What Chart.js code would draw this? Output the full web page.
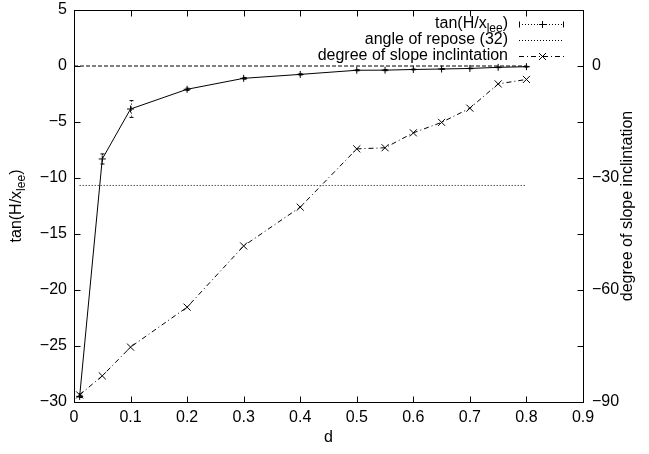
<!DOCTYPE html>
<html>
<head>
<meta charset="utf-8">
<script src="https://cdn.jsdelivr.net/npm/chart.js@4.4.1/dist/chart.umd.min.js"></script>
<style>
  html, body { margin: 0; padding: 0; background: #ffffff; }
  #wrap { width: 649px; height: 454px; }
</style>
</head>
<body>
<div id="wrap"><canvas id="c" width="649" height="454"></canvas></div>
<script>
// Relative distance d for each measurement
const dValues = [0.01, 0.05, 0.1, 0.2, 0.3, 0.4, 0.5, 0.55, 0.6, 0.65, 0.7, 0.75, 0.8];
// tan(H/x_lee) with its error bar half-widths (left axis)
const tanValues = [-29.5, -8.3, -3.84, -2.08, -1.1, -0.75, -0.38, -0.37, -0.31, -0.27, -0.22, -0.12, -0.06];
const tanErrors = [0.1, 0.45, 0.75, 0.1, 0.08, 0.06, 0.05, 0.05, 0.04, 0.04, 0.03, 0.03, 0.03];
// Degree of slope inclination (right axis)
const slopeValues = [-88.1, -83.0, -75.3, -64.6, -48.2, -37.8, -22.2, -21.9, -17.9, -15.1, -11.3, -4.8, -3.6];
// Angle of repose reference line (right axis, degrees)
const reposeAngle = -32;
const reposeSpan = [0.01, 0.8];
// Zero reference line (left axis)
const zeroLevel = 0;
const zeroSpan = [0, 0.8];

// Axis ticks
const xTicks = [0, 0.1, 0.2, 0.3, 0.4, 0.5, 0.6, 0.7, 0.8, 0.9];
const yTicks = [5, 0, -5, -10, -15, -20, -25, -30];
const y2LabelTicks = [0, -30, -60, -90];
const y2MarkTicks = [0, -15, -30, -45, -60, -75, -90];

const FONT = '"Liberation Sans", Arial, Helvetica, sans-serif';
const fontSpec = { family: FONT, size: 16 };
const minus = v => (v < 0 ? '\u2212' + String(Math.abs(v)) : String(v));

const tanPoints = dValues.map((d, i) => ({ x: d, y: tanValues[i] }));
const slopePoints = dValues.map((d, i) => ({ x: d, y: slopeValues[i] }));
const reposePoints = reposeSpan.map(d => ({ x: d, y: reposeAngle }));
const zeroPoints = zeroSpan.map(d => ({ x: d, y: zeroLevel }));

const TICK_LEN = 6;

// Draws text "base" + subscript + "tail", anchored by alignment
function drawSubText(ctx, base, sub, tail, x, y, align) {
  ctx.save();
  ctx.textBaseline = 'middle';
  ctx.textAlign = 'left';
  ctx.font = '16px ' + FONT;
  const w1 = ctx.measureText(base).width;
  const w3 = ctx.measureText(tail).width;
  ctx.font = '12px ' + FONT;
  const w2 = ctx.measureText(sub).width;
  const total = w1 + w2 + w3;
  let x0 = x;
  if (align === 'right') x0 = x - total;
  else if (align === 'center') x0 = x - total / 2;
  ctx.font = '16px ' + FONT;
  ctx.fillText(base, x0, y);
  ctx.font = '12px ' + FONT;
  ctx.fillText(sub, x0 + w1, y + 5);
  ctx.font = '16px ' + FONT;
  ctx.fillText(tail, x0 + w1 + w2, y);
  ctx.restore();
}

function drawCross(ctx, x, y, r) {
  ctx.beginPath();
  ctx.moveTo(x - r, y); ctx.lineTo(x + r, y);
  ctx.moveTo(x, y - r); ctx.lineTo(x, y + r);
  ctx.stroke();
}
function drawX(ctx, x, y, r) {
  ctx.beginPath();
  ctx.moveTo(x - r, y - r); ctx.lineTo(x + r, y + r);
  ctx.moveTo(x - r, y + r); ctx.lineTo(x + r, y - r);
  ctx.stroke();
}

// Fixed axis box sizes so the plot frame sits at a known place
const fixVertical = width => s => { s.width = width; s.paddingTop = 0; s.paddingBottom = 0; };
const fixHorizontal = height => s => { s.height = height; s.paddingLeft = 0; s.paddingRight = 0; };

const decorPlugin = {
  id: 'decor',
  afterDatasetsDraw(chart) {
    const ctx = chart.ctx;
    const xs = chart.scales.x, ys = chart.scales.y;
    // error bars of tan(H/x_lee)
    ctx.save();
    ctx.strokeStyle = '#000';
    ctx.lineWidth = 1;
    dValues.forEach((d, i) => {
      const px = Math.round(xs.getPixelForValue(d)) + 0.5;
      const top = ys.getPixelForValue(tanValues[i] + tanErrors[i]);
      const bot = ys.getPixelForValue(tanValues[i] - tanErrors[i]);
      ctx.setLineDash([1, 2]);
      ctx.beginPath();
      ctx.moveTo(px, top); ctx.lineTo(px, bot);
      ctx.stroke();
      ctx.setLineDash([]);
      ctx.beginPath();
      ctx.moveTo(px - 2, top); ctx.lineTo(px + 2, top);
      ctx.moveTo(px - 2, bot); ctx.lineTo(px + 2, bot);
      ctx.stroke();
    });
    ctx.restore();
  },
  afterDraw(chart) {
    const ctx = chart.ctx;
    const a = chart.chartArea;
    const xs = chart.scales.x, ys = chart.scales.y, y2 = chart.scales.y2;
    ctx.save();
    ctx.strokeStyle = '#000';
    ctx.lineWidth = 1;
    ctx.setLineDash([]);
    const L = Math.round(a.left) + 0.5, R = Math.round(a.right) + 0.5;
    const T = Math.round(a.top) + 0.5, B = Math.round(a.bottom) + 0.5;
    // frame
    ctx.strokeRect(L, T, R - L, B - T);
    // inward tick marks
    ctx.beginPath();
    xTicks.forEach(v => {
      const px = Math.round(xs.getPixelForValue(v)) + 0.5;
      ctx.moveTo(px, B); ctx.lineTo(px, B - TICK_LEN);
      ctx.moveTo(px, T); ctx.lineTo(px, T + TICK_LEN);
    });
    yTicks.forEach(v => {
      const py = Math.round(ys.getPixelForValue(v)) + 0.5;
      ctx.moveTo(L, py); ctx.lineTo(L + TICK_LEN, py);
    });
    y2MarkTicks.forEach(v => {
      const py = Math.round(y2.getPixelForValue(v)) + 0.5;
      ctx.moveTo(R, py); ctx.lineTo(R - TICK_LEN, py);
    });
    ctx.stroke();

    // axis titles
    ctx.fillStyle = '#000';
    ctx.font = '16px ' + FONT;
    ctx.textAlign = 'center';
    ctx.textBaseline = 'middle';
    ctx.fillText('d', (a.left + a.right) / 2, 438);
    const midY = (a.top + a.bottom) / 2;
    ctx.save();
    ctx.translate(628, midY);
    ctx.rotate(-Math.PI / 2);
    ctx.fillText('degree of slope inclintation', 0, 0);
    ctx.restore();
    ctx.save();
    ctx.translate(17, midY);
    ctx.rotate(-Math.PI / 2);
    drawSubText(ctx, 'tan(H/x', 'lee', ')', 0, 0, 'center');
    ctx.restore();

    // key
    const textRight = 508, s0 = 519, s1 = 564, sm = (s0 + s1) / 2;
    const rows = [24, 40, 56];
    drawSubText(ctx, 'tan(H/x', 'lee', ')', textRight, rows[0], 'right');
    ctx.textAlign = 'right';
    ctx.fillText('angle of repose (32)', textRight, rows[1]);
    ctx.fillText('degree of slope inclintation', textRight, rows[2]);

    ctx.lineWidth = 1;
    // tan sample: dotted span with end caps and a plus marker
    let y = rows[0] + 0.5;
    ctx.setLineDash([1, 2]);
    ctx.beginPath(); ctx.moveTo(s0, y); ctx.lineTo(s1, y); ctx.stroke();
    ctx.setLineDash([]);
    ctx.beginPath();
    ctx.moveTo(s0 + 0.5, y - 3); ctx.lineTo(s0 + 0.5, y + 3);
    ctx.moveTo(s1 - 0.5, y - 3); ctx.lineTo(s1 - 0.5, y + 3);
    ctx.stroke();
    drawCross(ctx, Math.round(sm) + 0.5, y, 3.5);
    // repose sample
    y = rows[1] + 0.5;
    ctx.setLineDash([1, 2]);
    ctx.beginPath(); ctx.moveTo(s0, y); ctx.lineTo(s1, y); ctx.stroke();
    // slope sample
    y = rows[2] + 0.5;
    ctx.setLineDash([5, 3, 1, 3]);
    ctx.beginPath(); ctx.moveTo(s0, y); ctx.lineTo(s1, y); ctx.stroke();
    ctx.setLineDash([]);
    drawX(ctx, Math.round(sm) + 0.5, y, 3.5);
    ctx.restore();
  }
};

new Chart(document.getElementById('c'), {
  type: 'line',
  data: {
    datasets: [
      {
        label: 'tan(H/x_lee)',
        data: tanPoints,
        yAxisID: 'y',
        borderColor: '#000',
        borderWidth: 1,
        pointStyle: 'cross',
        pointRadius: 3.5,
        pointBorderColor: '#000',
        pointBorderWidth: 1,
        tension: 0,
        fill: false
      },
      {
        label: 'angle of repose (32)',
        data: reposePoints,
        yAxisID: 'y2',
        borderColor: '#000',
        borderWidth: 1,
        borderDash: [1, 2],
        pointRadius: 0,
        fill: false
      },
      {
        label: 'degree of slope inclintation',
        data: slopePoints,
        yAxisID: 'y2',
        borderColor: '#000',
        borderWidth: 1,
        borderDash: [5, 3, 1, 3],
        pointStyle: 'crossRot',
        pointRadius: 5,
        pointBorderColor: '#000',
        pointBorderWidth: 1,
        tension: 0,
        fill: false
      },
      {
        label: 'zero',
        data: zeroPoints,
        yAxisID: 'y',
        borderColor: '#000',
        borderWidth: 1,
        borderDash: [4, 2],
        pointRadius: 0,
        fill: false
      }
    ]
  },
  options: {
    responsive: false,
    devicePixelRatio: 1,
    animation: false,
    layout: { padding: { top: 10, left: 0, right: 0, bottom: 0 } },
    plugins: {
      legend: { display: false },
      tooltip: { enabled: false }
    },
    scales: {
      x: {
        type: 'linear',
        position: 'bottom',
        min: 0,
        max: 0.9,
        afterBuildTicks: s => { s.ticks = xTicks.map(v => ({ value: v })); },
        afterFit: fixHorizontal(52),
        ticks: { font: fontSpec, color: '#000', padding: 6, maxRotation: 0, autoSkip: false,
                 callback: v => minus(v) },
        grid: { display: false, drawTicks: false },
        border: { display: false }
      },
      y: {
        type: 'linear',
        position: 'left',
        min: -30,
        max: 5,
        afterBuildTicks: s => { s.ticks = yTicks.map(v => ({ value: v })); },
        afterFit: fixVertical(74),
        ticks: { font: fontSpec, color: '#000', padding: 7, autoSkip: false,
                 callback: v => minus(v) },
        grid: { display: false, drawTicks: false },
        border: { display: false }
      },
      y2: {
        type: 'linear',
        position: 'right',
        min: -90,
        max: 15,
        afterBuildTicks: s => { s.ticks = y2LabelTicks.map(v => ({ value: v })); },
        afterFit: fixVertical(66),
        ticks: { font: fontSpec, color: '#000', padding: 9, autoSkip: false,
                 callback: v => minus(v) },
        grid: { display: false, drawTicks: false },
        border: { display: false }
      }
    }
  },
  plugins: [decorPlugin]
});
</script>
</body>
</html>
